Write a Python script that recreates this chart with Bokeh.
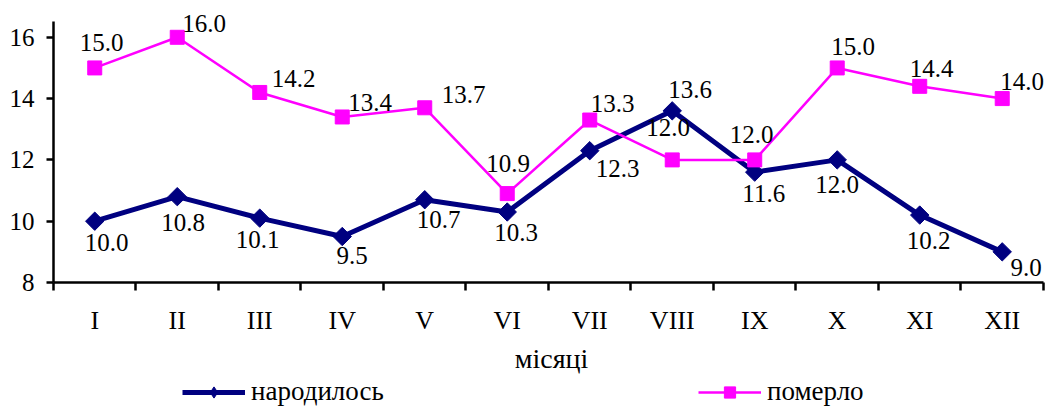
import numpy as np
from bokeh.plotting import figure
from bokeh.layouts import column
from bokeh.models import (ColumnDataSource, Range1d, FixedTicker, LinearAxis,
                          Legend, LegendItem)
from bokeh.core.properties import value
from bokeh.embed import file_html
from bokeh.resources import INLINE

# ---- data ----
months = ["I", "II", "III", "IV", "V", "VI", "VII", "VIII", "IX", "X", "XI", "XII"]
born = [10.0, 10.8, 10.1, 9.5, 10.7, 10.3, 12.3, 13.6, 11.6, 12.0, 10.2, 9.0]
died = [15.0, 16.0, 14.2, 13.4, 13.7, 10.9, 13.3, 12.0, 12.0, 15.0, 14.4, 14.0]
y_ticks = [8, 10, 12, 14, 16]
series_names = ["народилось", "померло"]
x_title = "місяці"

# ---- label placement (style, screen pixels) ----
born_dx = [12, 6, -2, 10, 14, 9, 28, 18, 9, 0, 9, 24]
born_dy = [21, 26, 21, 19, 20, 20, 18, -21, 21, 25, 25, 16]
died_dx = [7, 27, 34, 28, 39, 1, 23, -4, -3, 16, 12, 20]
died_dy = [-25, -14, -14, -14, -13, -30, -17, -32, -25, -21, -18, -17]

FONT = "Liberation Serif"
NAVY = "#000080"
MAGENTA = "#FF00FF"

n = len(months)
xs = np.arange(n) + 0.5

src_b = ColumnDataSource(dict(x=xs, y=born, t=[f"{v:.1f}" for v in born],
                              dx=born_dx, dy=born_dy))
src_d = ColumnDataSource(dict(x=xs, y=died, t=[f"{v:.1f}" for v in died],
                              dx=died_dx, dy=died_dy))

p = figure(width=1049, height=376, output_backend="svg", toolbar_location=None,
           x_range=Range1d(0, n + 0.073), y_range=Range1d(8, 17.2),
           min_border_left=53, min_border_right=0, min_border_top=0,
           min_border_bottom=93, x_axis_type=None)
p.outline_line_color = None
p.xgrid.visible = False
p.ygrid.visible = False
p.background_fill_color = "white"

# y axis
ya = p.yaxis[0]
ya.ticker = FixedTicker(ticks=y_ticks)
ya.bounds = (8, 16.5)
ya.minor_tick_line_color = None
ya.major_tick_in = 0
ya.major_tick_out = 7
ya.major_label_standoff = 12
ya.axis_line_width = 2.5
ya.major_tick_line_width = 2.5
ya.axis_line_color = "black"
ya.major_label_text_font = FONT
ya.major_label_text_font_size = "25px"
ya.major_label_text_color = "black"

# x axis: labels at category centres, ticks at boundaries (minor)
xa = LinearAxis(ticker=FixedTicker(ticks=list(xs), minor_ticks=list(range(n + 1))))
xa.bounds = (0, n)
xa.major_label_overrides = {float(x): m for x, m in zip(xs, months)}
xa.major_tick_out = 0
xa.major_tick_in = 0
xa.minor_tick_out = 8
xa.minor_tick_in = 0
xa.minor_tick_line_width = 2.5
xa.minor_tick_line_color = "black"
xa.axis_line_width = 2.5
xa.axis_line_color = "black"
xa.major_label_standoff = 15
xa.major_label_text_font = FONT
xa.major_label_text_font_size = "26px"
xa.major_label_text_color = "black"
xa.axis_label = x_title
xa.axis_label_text_font = FONT
xa.axis_label_text_font_size = "28px"
xa.axis_label_text_font_style = "normal"
xa.axis_label_text_color = "black"
xa.axis_label_standoff = 5
p.add_layout(xa, "below")

# series
p.line("x", "y", source=src_b, line_color=NAVY, line_width=5)
p.scatter("x", "y", source=src_b, marker="square", size=13, angle=np.pi / 4,
          fill_color=NAVY, line_color=NAVY)
p.line("x", "y", source=src_d, line_color=MAGENTA, line_width=2.5)
p.scatter("x", "y", source=src_d, marker="square", size=14,
          fill_color=MAGENTA, line_color=MAGENTA)

for src in (src_b, src_d):
    p.text("x", "y", text="t", source=src, x_offset="dx", y_offset="dy",
           text_font=value(FONT), text_font_size="25px", text_color="black",
           text_align="center", text_baseline="middle")

# ---- legend strip (separate small figure below; series lie outside its view) ----
lg = figure(width=1049, height=31, output_backend="svg", toolbar_location=None,
            x_range=Range1d(0, 1), y_range=Range1d(0, 1),
            min_border=0, x_axis_type=None, y_axis_type=None)
lg.outline_line_color = None
lg.xgrid.visible = False
lg.ygrid.visible = False
r1 = lg.line("x", "y", source=src_b, line_color=NAVY, line_width=5)
m1 = lg.scatter("x", "y", source=src_b, marker="diamond", size=24,
                fill_color=NAVY, line_color=NAVY)
r2 = lg.line("x", "y", source=src_d, line_color=MAGENTA, line_width=2.5)
m2 = lg.scatter("x", "y", source=src_d, marker="square", size=15,
                fill_color=MAGENTA, line_color=MAGENTA)
legend = Legend(items=[LegendItem(label=series_names[0], renderers=[r1, m1]),
                       LegendItem(label=series_names[1], renderers=[r2, m2])],
                orientation="horizontal", location=(129, 0),
                glyph_width=63, glyph_height=28, label_standoff=6, spacing=306,
                label_width=141,
                padding=0, margin=0, border_line_color=None,
                background_fill_alpha=0,
                label_text_font=FONT, label_text_font_size="27px",
                label_text_color="black")
lg.add_layout(legend)

layout = column(p, lg, spacing=0)
open("out.html", "w").write(file_html(layout, INLINE))
